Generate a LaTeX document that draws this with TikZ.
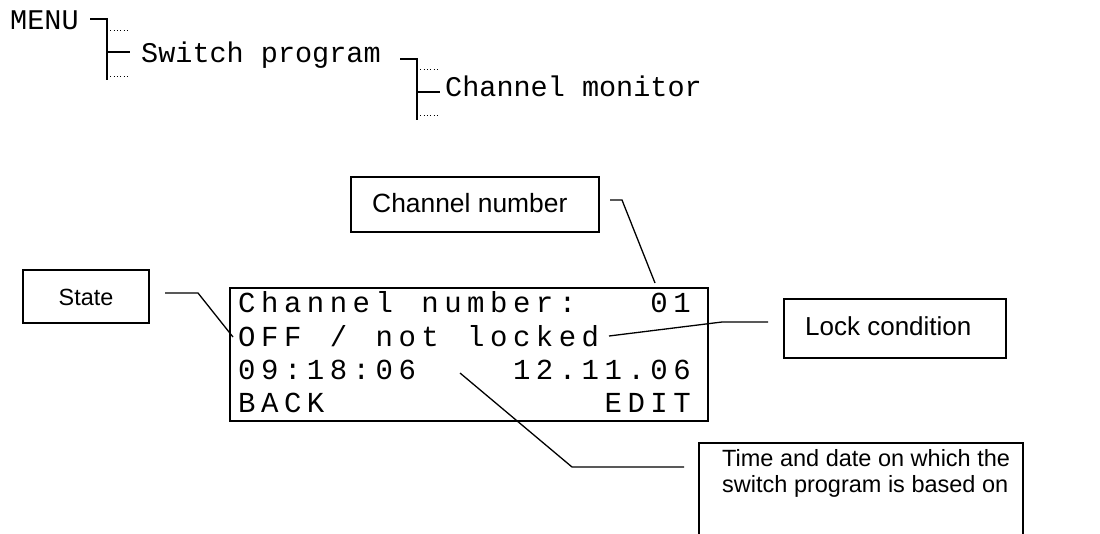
\documentclass[tikz,border=0pt]{standalone}
\usepackage{fontspec}
\setmainfont{Liberation Sans}
\newfontfamily\monofam{Liberation Mono}
\newcommand\lcdtext[3]{%
  \foreach \lc [count=\k from #1] in {#3}{%
    \node[lcdch] (ch#2-\k) at ({238+22.9*\k},{279.7+33.2*#2}) {\lc};}}
\begin{document}
\begin{tikzpicture}[x=1pt,y=-1pt,
  treetext/.style={font=\monofam\fontsize{28.5}{30}\selectfont, anchor=base west, inner sep=0pt},
  lcdch/.style={font=\monofam\fontsize{29}{30}\selectfont, anchor=base west, inner sep=0pt},
  treeline/.style={line width=1.8pt},
  dotline/.style={line width=0.9pt, dash pattern=on 0.9pt off 2.4pt},
  lblbox/.style={draw, line width=1.2pt, inner sep=0pt},
  lbltext/.style={inner sep=0pt},
  conn/.style={line width=1.3pt, line join=miter},
]
\useasboundingbox (0,0) rectangle (1100,533);

% --- menu tree ---
\node[treetext] (menu) at (10,29) {MENU};
\node[treetext] (swprog) at (141,62) {Switch program};
\node[treetext] (chmon) at (445,96) {Channel monitor};

\coordinate (m0) at (90,19);
\coordinate (m1) at (107,19);
\coordinate (m2) at (107,80);
\coordinate (m3) at (107,30);
\coordinate (m4) at (128,30);
\coordinate (m5) at (107,76);
\coordinate (m6) at (128,76);
\coordinate (m7) at (107,52);
\coordinate (m8) at (130,52);
\draw[treeline] (m0) -- (m1) -- (m2);
\draw[treeline] (m7) -- (m8);
\draw[dotline] (m3) -- (m4);
\draw[dotline] (m5) -- (m6);

\coordinate (p0) at (400,59);
\coordinate (p1) at (417,59);
\coordinate (p2) at (417,120);
\coordinate (p3) at (417,69);
\coordinate (p4) at (437,69);
\coordinate (p5) at (417,115);
\coordinate (p6) at (437,115);
\coordinate (p7) at (417,92);
\coordinate (p8) at (440,92);
\draw[treeline] (p0) -- (p1) -- (p2);
\draw[treeline] (p7) -- (p8);
\draw[dotline] (p3) -- (p4);
\draw[dotline] (p5) -- (p6);

% --- LCD display ---
\node[draw, line width=2pt, minimum width=478pt, minimum height=133pt, inner sep=0pt] (lcd) at (469,354.5) {};
\lcdtext{0}{1}{C,h,a,n,n,e,l}
\lcdtext{8}{1}{n,u,m,b,e,r,:}
\lcdtext{18}{1}{0,1}
\lcdtext{0}{2}{O,F,F}
\lcdtext{4}{2}{/}
\lcdtext{6}{2}{n,o,t}
\lcdtext{10}{2}{l,o,c,k,e,d}
\lcdtext{0}{3}{0,9,:,1,8,:,0,6}
\lcdtext{12}{3}{1,2,.,1,1,.,0,6}
\lcdtext{0}{4}{B,A,C,K}
\lcdtext{16}{4}{E,D,I,T}

% --- label boxes ---
\node[lblbox, minimum width=126pt, minimum height=53pt] (statebox) at (86,296.5) {};
\node[lbltext, anchor=base, font=\fontsize{23.4}{26}\selectfont] (statetxt) at (86,305) {State};

\node[lblbox, minimum width=248pt, minimum height=55pt] (chnbox) at (475,204.5) {};
\node[lbltext, anchor=base west, font=\fontsize{26.4}{28}\selectfont] (chntxt) at (372,212) {Channel number};

\node[lblbox, minimum width=222pt, minimum height=59pt] (lockbox) at (895,328.5) {};
\node[lbltext, anchor=base west, font=\fontsize{26}{28}\selectfont] (locktxt) at (805,335) {Lock condition};

\begin{scope}
\clip (0,0) rectangle (1100,533);
\node[lblbox, minimum width=324pt, minimum height=120pt] (timebox) at (861,503) {};
\end{scope}
\node[lbltext, anchor=base west, font=\fontsize{23.5}{26}\selectfont] (timetxt1) at (722,466) {Time and date on which the};
\node[lbltext, anchor=base west, font=\fontsize{23.5}{26}\selectfont] (timetxt2) at (722,492) {switch program is based on};

% --- connectors ---
\coordinate (s0) at (165,293);
\coordinate (s1) at (198,293);
\coordinate (s2) at (233,337);
\draw[conn] (s0) -- (s1) -- (s2);

\coordinate (c0) at (610,200);
\coordinate (c1) at (622,200);
\coordinate (c2) at (655,283);
\draw[conn] (c0) -- (c1) -- (c2);

\coordinate (l0) at (768,322);
\coordinate (l1) at (722,322);
\coordinate (l2) at (609,336);
\draw[conn] (l0) -- (l1) -- (l2);

\coordinate (t0) at (460,373);
\coordinate (t1) at (572,467);
\coordinate (t2) at (684,467);
\draw[conn] (t0) -- (t1) -- (t2);
\end{tikzpicture}
\end{document}
